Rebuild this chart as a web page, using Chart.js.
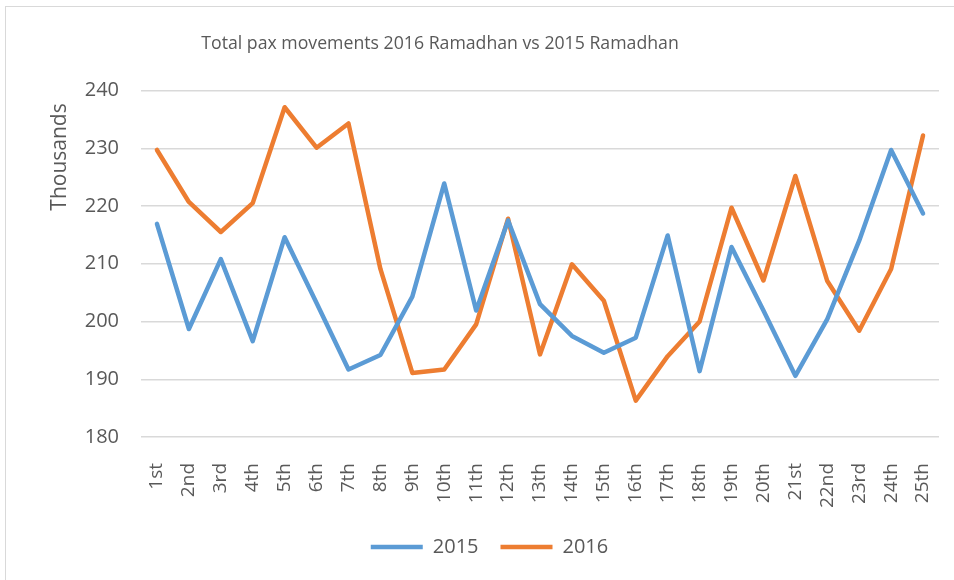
<!DOCTYPE html>
<html>
<head>
<meta charset="utf-8">
<script src="https://cdn.jsdelivr.net/npm/chart.js@4.4.1/dist/chart.umd.min.js"></script>
<style>
  html, body { margin: 0; padding: 0; background: #fff; }
  #wrap { position: relative; width: 954px; height: 580px; overflow: hidden; }
  #frame { position: absolute; left: 5px; top: 6px; width: 1200px; height: 1200px; border: 1.5px solid #d9d9d9; }
  #chart { position: absolute; left: 0; top: 0; }
</style>
</head>
<body>
<div id="wrap"><div id="frame"></div><canvas id="chart" width="954" height="580"></canvas></div>
<script>
// dane (w tysiącach)
const days = ['1st', '2nd', '3rd', '4th', '5th', '6th', '7th', '8th', '9th', '10th',
    '11th', '12th', '13th', '14th', '15th', '16th', '17th', '18th', '19th', '20th',
    '21st', '22nd', '23rd', '24th', '25th'];
const pax2015 = [216.9, 198.7, 210.8, 196.6, 214.6, 203.2, 191.7, 194.2, 204.3, 223.9,
    201.9, 217.5, 203.0, 197.5, 194.6, 197.2, 214.9, 191.4, 212.9, 201.9,
    190.6, 200.4, 214.0, 229.7, 218.7];
const pax2016 = [229.7, 220.7, 215.5, 220.5, 237.1, 230.1, 234.3, 209.1, 191.1, 191.7,
    199.5, 217.8, 194.3, 209.9, 203.6, 186.3, 194.0, 200.0, 219.7, 207.1,
    225.2, 207.0, 198.4, 209.1, 232.2];
const yMin = 180, yMax = 240, yStep = 10;

const titleText = 'Total pax movements 2016 Ramadhan vs 2015 Ramadhan';
const yTitle = 'Thousands';
const grey = '#595959';
const fontFamily = '"Open Sans", sans-serif';

// tytuł i etykieta osi Y rysowane tam gdzie w Excelu
const excelLabels = {
    id: 'excelLabels',
    afterDraw(chart) {
        const ctx = chart.ctx;
        ctx.save();
        ctx.fillStyle = grey;
        ctx.textAlign = 'center';
        ctx.textBaseline = 'middle';
        ctx.font = '17.7px ' + fontFamily;
        ctx.fillText(titleText, 440, 44);
        ctx.translate(60, 157);
        ctx.rotate(-Math.PI / 2);
        ctx.font = '21px ' + fontFamily;
        ctx.fillText(yTitle, 0, 0);
        ctx.restore();
    }
};

new Chart(document.getElementById('chart'), {
    type: 'line',
    data: {
        labels: days,
        datasets: [
            {
                label: '2015',
                data: pax2015,
                borderColor: '#5B9BD5',
                backgroundColor: '#5B9BD5',
                borderWidth: 4.5,
                borderCapStyle: 'round',
                borderJoinStyle: 'round',
                pointRadius: 0,
                tension: 0,
                fill: false,
            },
            {
                label: '2016',
                data: pax2016,
                borderColor: '#ED7D31',
                backgroundColor: '#ED7D31',
                borderWidth: 4.5,
                borderCapStyle: 'round',
                borderJoinStyle: 'round',
                pointRadius: 0,
                tension: 0,
                fill: false,
            },
        ]
    },
    options: {
        responsive: false,
        animation: false,
        layout: { padding: { left: 40, right: 15, top: 90.5, bottom: 13 } },
        scales: {
            x: {
                offset: true,
                grid: { display: false, offset: true },
                border: { display: false },
                afterFit: function(scale) {
                    scale.height = 78;
                    scale.paddingLeft = 0;
                    scale.paddingRight = 0;
                },
                ticks: {
                    autoSkip: false,
                    minRotation: 90,
                    maxRotation: 90,
                    padding: 18,
                    color: grey,
                    font: { family: fontFamily, size: 19 },
                },
            },
            y: {
                min: yMin,
                max: yMax,
                border: { display: false },
                grid: { color: '#d9d9d9', lineWidth: 1.5, drawTicks: false },
                afterFit: function(scale) { scale.width = 101; },
                ticks: {
                    stepSize: yStep,
                    padding: 22,
                    color: grey,
                    font: { family: fontFamily, size: 20 },
                },
            },
        },
        plugins: {
            title: { display: false },
            tooltip: { enabled: false },
            legend: {
                position: 'bottom',
                labels: {
                    usePointStyle: true,
                    pointStyle: 'line',
                    pointStyleWidth: 52,
                    padding: 22,
                    color: grey,
                    font: { family: fontFamily, size: 20 },
                },
            },
        },
    },
    plugins: [excelLabels],
});
</script>
</body>
</html>
